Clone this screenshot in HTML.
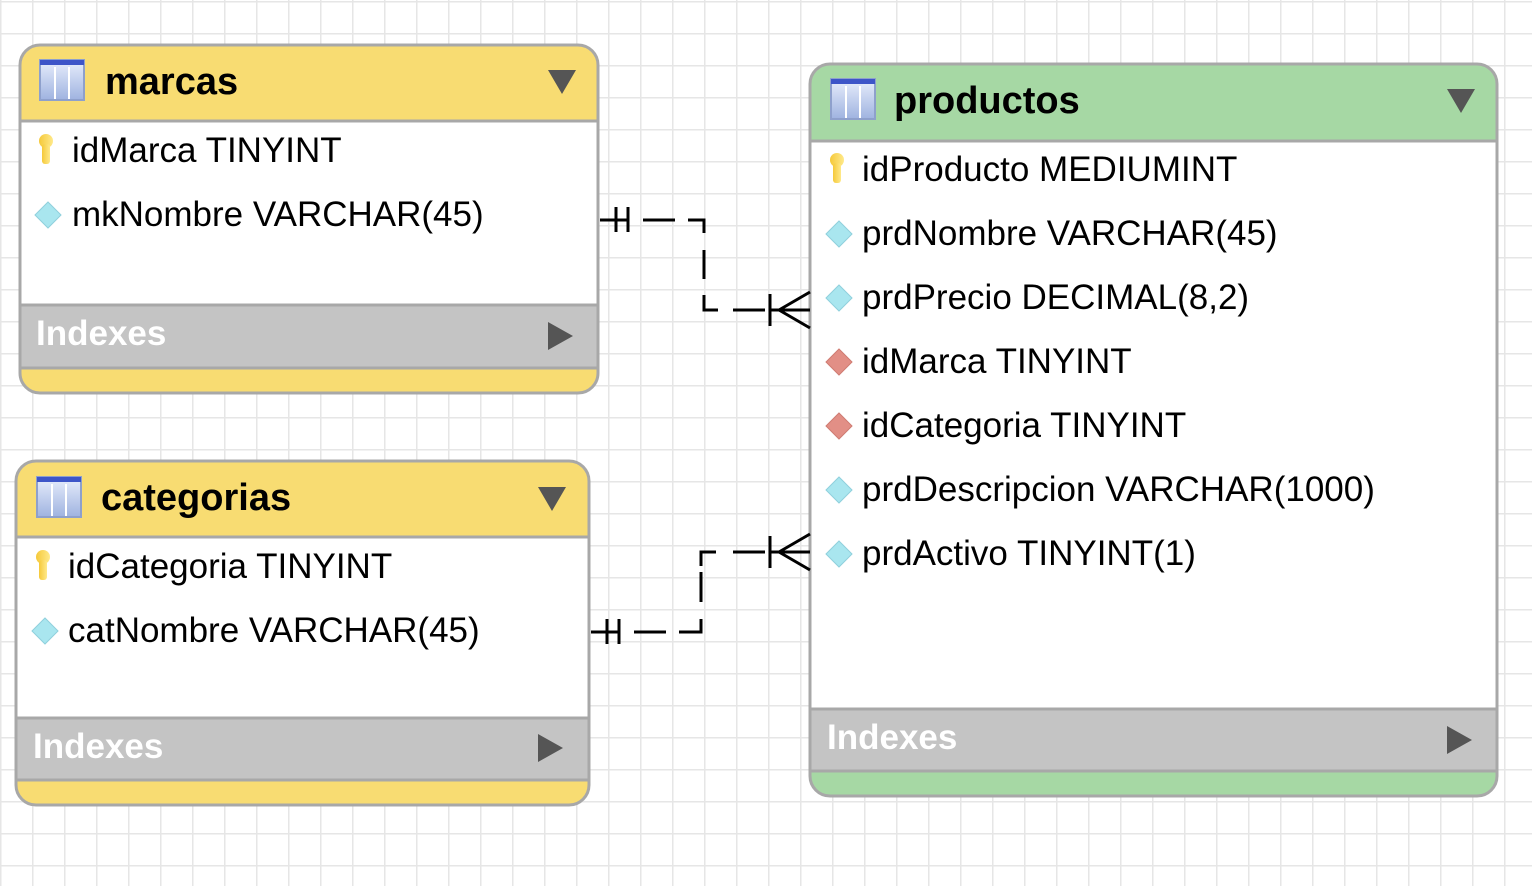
<!DOCTYPE html>
<html><head><style>
body{margin:0;width:1532px;height:886px;overflow:hidden;background:#fff}
svg text{font-family:"Liberation Sans",sans-serif}
</style></head><body>
<svg width="1532" height="886" xmlns="http://www.w3.org/2000/svg">
<defs>
<pattern id="g" x="0" y="1" width="32" height="32" patternUnits="userSpaceOnUse">
<path d="M0 0H32M0 0V32" stroke="#e6e6e6" stroke-width="3" fill="none"/>
</pattern>
<linearGradient id="ic" x1="0" y1="0" x2="0" y2="1"><stop offset="0" stop-color="#e8eefc"/><stop offset="1" stop-color="#9fb3e0"/></linearGradient>
<linearGradient id="key" x1="0" y1="0" x2="1" y2="0"><stop offset="0" stop-color="#f5c93a"/><stop offset="1" stop-color="#ffe98a"/></linearGradient>
<g id="icon"><rect x="0" y="0" width="44" height="40" fill="url(#ic)" stroke="#8ea0cc" stroke-width="2"/><rect x="0" y="0" width="44" height="5" fill="#3d55c8"/><path d="M15 7V39M29 7V39" stroke="#fff" stroke-width="2"/></g>
<g id="pk"><circle cx="0" cy="-7" r="7" fill="url(#key)"/><rect x="-4" y="-4" width="8" height="20" rx="3" fill="url(#key)"/></g>
<g id="dia"><path d="M0 -13L13 0L0 13L-13 0Z" fill="#a9e6ef" stroke="#8fd0dc"/></g>
<g id="fk"><path d="M0 -13L13 0L0 13L-13 0Z" fill="#e28f86" stroke="#cf7b72"/></g>
</defs>
<rect width="1532" height="886" fill="url(#g)"/>

<g>
<rect x="20" y="45" width="578" height="348" rx="20" fill="#f8dc72" stroke="#a8a8a8" stroke-width="3"/>
<rect x="21.5" y="121" width="575" height="184" fill="#fff"/>
<rect x="21.5" y="305" width="575" height="63" fill="#c4c4c4"/>
<path d="M20 121H598M20 305H598M20 368H598" stroke="#a8a8a8" stroke-width="3"/>
<use href="#icon" x="40" y="60"/>
<text x="105" y="94" font-size="38" font-weight="bold">marcas</text>
<path d="M548 70H576L562 94Z" fill="#555"/>
<use href="#pk" x="46" y="148"/>
<text x="72" y="162" font-size="35">idMarca TINYINT</text>
<use href="#dia" x="48" y="215"/>
<text x="72" y="226" font-size="35">mkNombre VARCHAR(45)</text>
<text x="36" y="345" font-size="35" font-weight="bold" fill="#fff">Indexes</text>
<path d="M548 322V350L573 336Z" fill="#555"/>
</g>

<g>
<rect x="16" y="461" width="573" height="344" rx="20" fill="#f8dc72" stroke="#a8a8a8" stroke-width="3"/>
<rect x="17.5" y="537" width="570" height="181" fill="#fff"/>
<rect x="17.5" y="718" width="570" height="62" fill="#c4c4c4"/>
<path d="M16 537H589M16 718H589M16 780H589" stroke="#a8a8a8" stroke-width="3"/>
<use href="#icon" x="37" y="477"/>
<text x="101" y="510" font-size="38" font-weight="bold">categorias</text>
<path d="M538 487H566L552 511Z" fill="#555"/>
<use href="#pk" x="43" y="564"/>
<text x="68" y="578" font-size="35">idCategoria TINYINT</text>
<use href="#dia" x="45" y="631"/>
<text x="68" y="642" font-size="35">catNombre VARCHAR(45)</text>
<text x="33" y="758" font-size="35" font-weight="bold" fill="#fff">Indexes</text>
<path d="M538 734V762L563 748Z" fill="#555"/>
</g>

<g>
<rect x="810" y="64" width="687" height="732" rx="20" fill="#a6d8a4" stroke="#a8a8a8" stroke-width="3"/>
<rect x="811.5" y="141" width="684" height="568" fill="#fff"/>
<rect x="811.5" y="709" width="684" height="62" fill="#c4c4c4"/>
<path d="M810 141H1497M810 709H1497M810 771H1497" stroke="#a8a8a8" stroke-width="3"/>
<use href="#icon" x="831" y="79"/>
<text x="894" y="113" font-size="38" font-weight="bold">productos</text>
<path d="M1447 89H1475L1461 113Z" fill="#555"/>
<use href="#pk" x="837" y="167"/>
<text x="862" y="181" font-size="35">idProducto MEDIUMINT</text>
<use href="#dia" x="839" y="234"/>
<text x="862" y="245" font-size="35">prdNombre VARCHAR(45)</text>
<use href="#dia" x="839" y="298"/>
<text x="862" y="309" font-size="35">prdPrecio DECIMAL(8,2)</text>
<use href="#fk" x="839" y="362"/>
<text x="862" y="373" font-size="35">idMarca TINYINT</text>
<use href="#fk" x="839" y="426"/>
<text x="862" y="437" font-size="35">idCategoria TINYINT</text>
<use href="#dia" x="839" y="490"/>
<text x="862" y="501" font-size="35">prdDescripcion VARCHAR(1000)</text>
<use href="#dia" x="839" y="554"/>
<text x="862" y="565" font-size="35">prdActivo TINYINT(1)</text>
<text x="827" y="749" font-size="35" font-weight="bold" fill="#fff">Indexes</text>
<path d="M1447 726V754L1472 740Z" fill="#555"/>
</g>

<g stroke="#000" stroke-width="3" fill="none">
<path d="M600 220H628M616 207V232M628 207V232"/>
<path d="M643 220H675M688 220H704V233M704 250V279M704 295V310H718M733 310H765"/>
<path d="M770 294V326M770 310H810M779 310L810 292M779 310L810 328"/>
<path d="M591 632H620M607 619V644M619 619V644"/>
<path d="M634 632H666M679 632H701V619M701 602V572M701 566V552H716M733 552H765"/>
<path d="M770 536V568M770 552H810M779 552L810 534M779 552L810 570"/>
</g>
</svg>
</body></html>
